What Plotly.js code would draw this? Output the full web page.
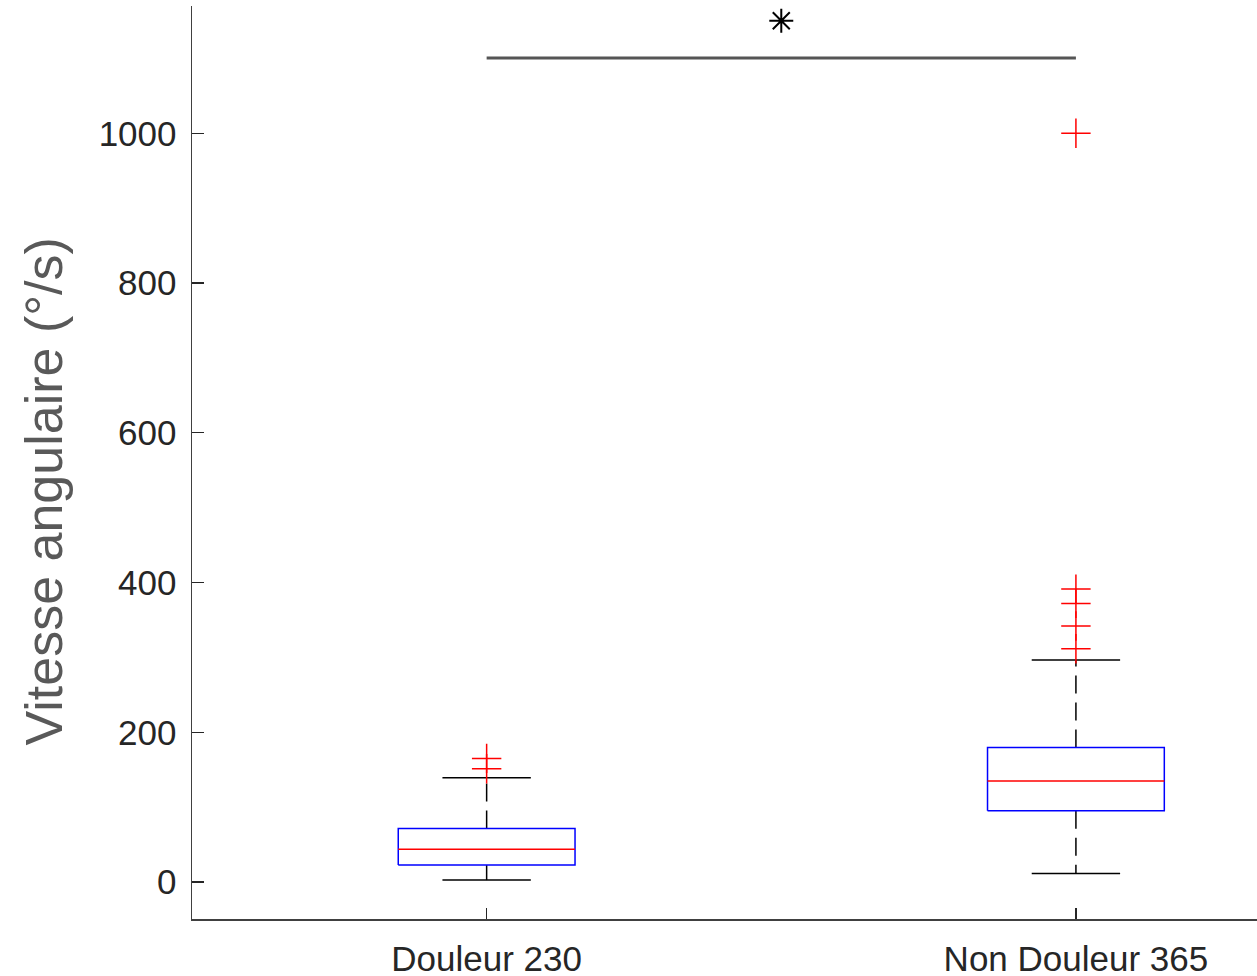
<!DOCTYPE html>
<html>
<head>
<meta charset="utf-8">
<script src="https://cdn.plot.ly/plotly-3.0.1.min.js"></script>
<style>html,body{margin:0;padding:0;background:#fff;}#chart{width:1257px;height:976px;}</style>
</head>
<body>
<div id="chart"></div>
<script>
// ---- data ----
const categories = ["Douleur 230", "Non Douleur 365"];
const positions = [1, 2];
const lowerWhisker = [2.7, 11.6];
const q1 = [22.7, 95.2];
const median = [43.7, 134.9];
const q3 = [71.7, 179.9];
const upperWhisker = [139.3, 296.5];
const outliersDouleur = [151.3, 165.2];
const outliersNonDouleur = [311.6, 341.9, 372.2, 391.3, 1000];
const outliers = [outliersDouleur, outliersNonDouleur];
const sigPair = [1, 2];
const sigLevel = 1100.5;
const sigStarLevel = 1150.4;
const yTicks = [0, 200, 400, 600, 800, 1000];

// ---- styles ----
const boxHalf = 0.15, capHalf = 0.075;
const font = "Liberation Sans, Arial, Helvetica, sans-serif";
const traces = [];
positions.forEach((c, i) => {
  // whiskers (dashed)
  traces.push({x:[c,c], y:[q3[i], upperWhisker[i]], mode:'lines', line:{color:'#000', width:1.5, dash:'18px,9px'}, hoverinfo:'skip'});
  traces.push({x:[c,c], y:[q1[i], lowerWhisker[i]], mode:'lines', line:{color:'#000', width:1.5, dash:'18px,9px'}, hoverinfo:'skip'});
  // caps
  traces.push({x:[c-capHalf, c+capHalf], y:[upperWhisker[i], upperWhisker[i]], mode:'lines', line:{color:'#000', width:1.5}, hoverinfo:'skip'});
  traces.push({x:[c-capHalf, c+capHalf], y:[lowerWhisker[i], lowerWhisker[i]], mode:'lines', line:{color:'#000', width:1.5}, hoverinfo:'skip'});
  // box
  traces.push({x:[c-boxHalf, c+boxHalf, c+boxHalf, c-boxHalf, c-boxHalf], y:[q1[i], q1[i], q3[i], q3[i], q1[i]], mode:'lines', line:{color:'#0000ff', width:1.5}, fill:'toself', fillcolor:'rgba(255,255,255,1)', hoverinfo:'skip'});
  // median
  traces.push({x:[c-boxHalf, c+boxHalf], y:[median[i], median[i]], mode:'lines', line:{color:'#ff0000', width:1.5}, hoverinfo:'skip'});
  // outliers
  traces.push({x:outliers[i].map(() => c), y:outliers[i], mode:'markers', marker:{symbol:'cross-thin-open', size:21, color:'#ff0000', line:{color:'#e00000', width:1.5}}, hoverinfo:'y'});
});
// significance bar and star
traces.push({x:sigPair, y:[sigLevel, sigLevel], mode:'lines', line:{color:'#555555', width:3}, hoverinfo:'skip'});
traces.push({x:[(sigPair[0]+sigPair[1])/2], y:[sigStarLevel], mode:'markers', marker:{symbol:'asterisk-open', size:20, color:'#000', line:{color:'#000', width:2}}, hoverinfo:'skip'});

const layout = {
  width:1257, height:976,
  margin:{l:192, r:0, t:6, b:57, pad:0},
  paper_bgcolor:'#fff', plot_bgcolor:'#fff',
  showlegend:false,
  font:{family:font, color:'#262626'},
  xaxis:{
    range:[0.5, 2.3073], tickvals:positions, ticktext:categories,
    ticks:'inside', ticklen:11, tickwidth:1.2, tickcolor:'#262626',
    showline:true, linecolor:'#404040', linewidth:1.5,
    showgrid:false, zeroline:false, ticklabelstandoff:8,
    tickfont:{size:35, family:font, color:'#262626'}
  },
  yaxis:{
    range:[-49.3, 1170], tickvals:yTicks, ticktext:yTicks.map(String),
    ticks:'inside', ticklen:12, tickwidth:1.2, tickcolor:'#262626',
    showline:true, linecolor:'#404040', linewidth:1.5,
    showgrid:false, zeroline:false, ticklabelstandoff:7,
    tickfont:{size:35, family:font, color:'#262626'}
  },
  annotations:[{
    text:'Vitesse angulaire (°/s)', xref:'paper', yref:'paper',
    x:-149/1065, y:(919-491.5)/913, xanchor:'center', yanchor:'middle',
    textangle:-90, showarrow:false,
    font:{size:52, family:font, color:'#595959'}
  }]
};
Plotly.newPlot('chart', traces, layout, {displayModeBar:false, staticPlot:true});
</script>
</body>
</html>
